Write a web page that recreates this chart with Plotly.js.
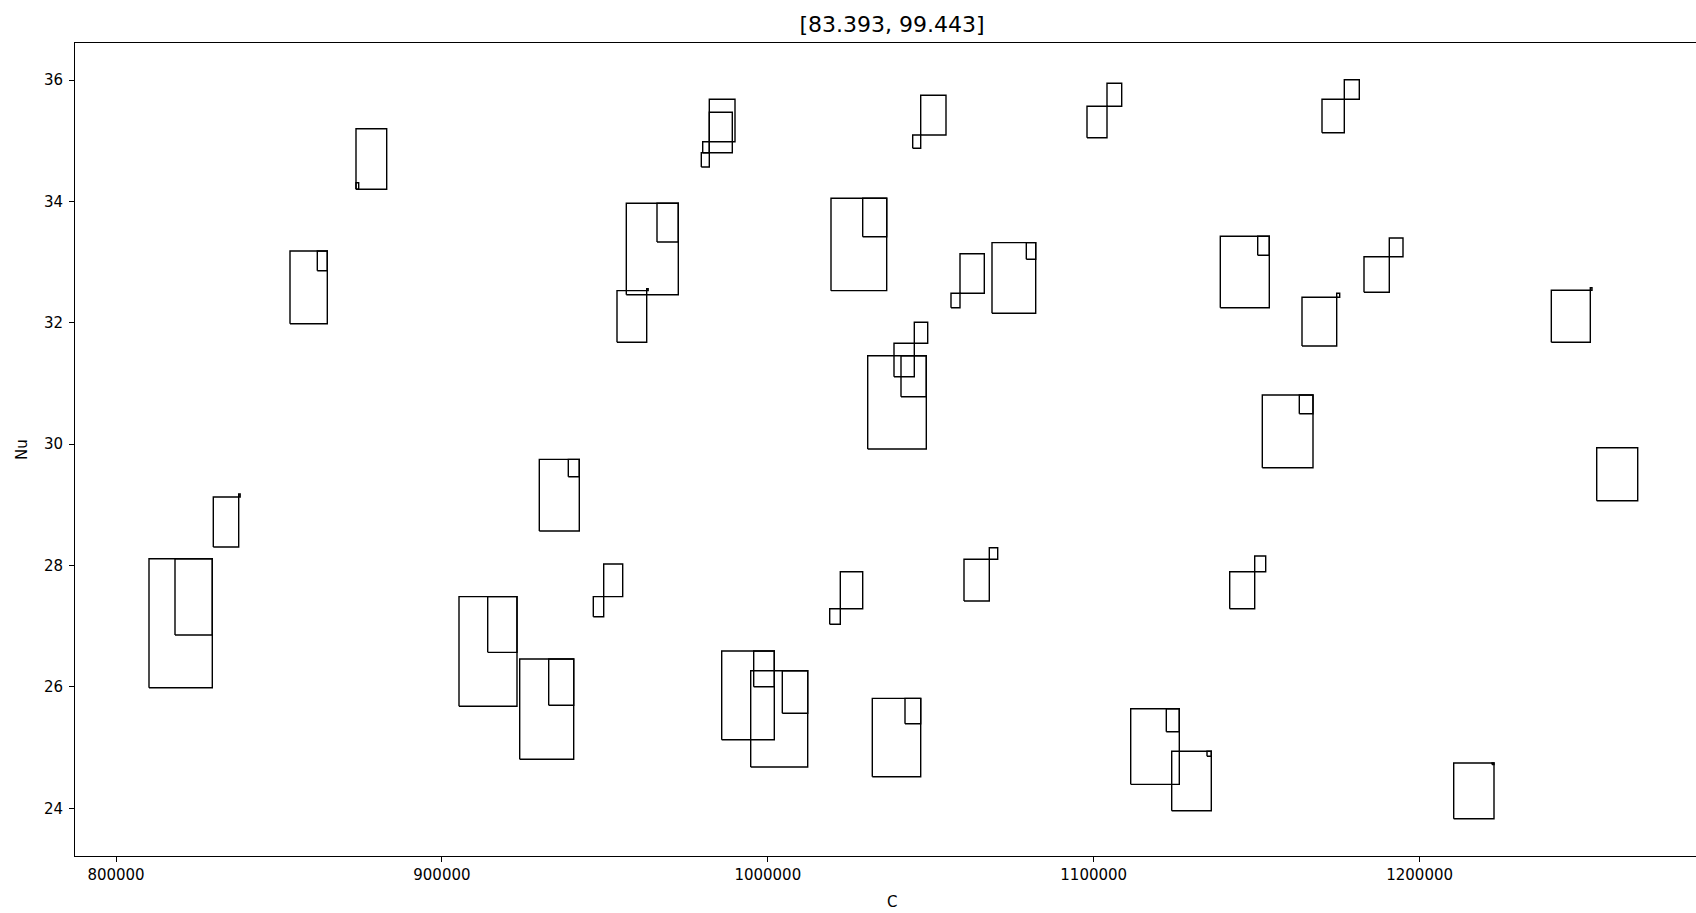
<!DOCTYPE html>
<html>
<head>
<meta charset="utf-8">
<script src="https://cdn.plot.ly/plotly-3.0.1.min.js"></script>
<style>
  html, body { margin: 0; padding: 0; background: #ffffff; }
  #chart { width: 1696px; height: 913px; }
</style>
</head>
<body>
<div id="chart"></div>
<script>
// Rectangle outlines: left, right, bottom, top (data units)
const rectX0 = [810126, 818104, 829855, 837649, 853390, 861767, 873642, 873642, 905246, 914053,
                923872, 932770, 929885, 938783, 949646, 946455, 953727, 962840, 956581, 966000,
                982048, 980023, 982048, 979594, 985853, 995672, 994751, 1004447, 1022244, 1018992,
                1019391, 1029118, 1030652, 1040869, 1038722, 1044950, 1032064, 1042097, 1046915, 1044461,
                1058973, 1056211, 1068792, 1079316, 1060200, 1067963, 1097942, 1104078, 1111350, 1122273,
                1123931, 1134762, 1138843, 1150319, 1141728, 1149399, 1151731, 1163085, 1163912, 1174559,
                1170049, 1176891, 1182936, 1190699, 1210460, 1222200, 1240409, 1252376, 1254340];
const rectX1 = [829549, 829549, 837649, 838100, 864835, 864835, 883062, 874470, 923043, 923043,
                940441, 940441, 942158, 942158, 955476, 949646, 962840, 963300, 972536, 972536,
                989934, 982048, 989105, 982048, 1001993, 1001993, 1012241, 1012241, 1029118, 1022244,
                1036482, 1036482, 1048633, 1048633, 1044950, 1049062, 1046915, 1046915, 1054677, 1046915,
                1066429, 1058973, 1082201, 1082201, 1067963, 1070540, 1104078, 1108589, 1126262, 1126262,
                1136082, 1136082, 1153878, 1153878, 1149399, 1152774, 1167287, 1167287, 1174559, 1175480,
                1176891, 1181494, 1190699, 1194903, 1222826, 1222826, 1252376, 1252896, 1266920];
const rectY0 = [25.987, 26.856, 28.305, 29.129, 31.985, 32.858, 34.199, 34.199, 25.681, 26.570,
                24.807, 25.697, 28.569, 29.464, 27.487, 27.157, 31.678, 32.529, 32.463, 33.331,
                34.984, 34.802, 34.802, 34.567, 25.130, 26.004, 24.680, 25.565, 27.289, 27.032,
                32.529, 33.418, 29.920, 30.782, 31.111, 31.662, 24.521, 25.394, 35.094, 34.875,
                32.486, 32.248, 32.156, 33.046, 27.416, 28.103, 35.050, 35.567, 24.395, 25.262,
                23.960, 24.857, 32.248, 33.112, 27.289, 27.898, 29.612, 30.502, 31.617, 32.420,
                35.132, 35.682, 32.502, 33.089, 23.829, 24.720, 31.678, 32.535, 29.068];
const rectY1 = [28.113, 28.113, 29.129, 29.180, 33.183, 33.183, 35.198, 34.308, 27.487, 27.487,
                26.460, 26.460, 29.750, 29.750, 28.025, 27.487, 32.529, 32.560, 33.969, 33.969,
                35.682, 34.984, 35.468, 34.802, 26.592, 26.592, 26.267, 26.267, 27.898, 27.289,
                34.051, 34.051, 31.457, 31.457, 31.662, 32.008, 25.812, 25.812, 35.748, 35.094,
                33.138, 32.486, 33.320, 33.320, 28.103, 28.294, 35.567, 35.946, 25.641, 25.641,
                24.939, 24.939, 33.425, 33.425, 27.898, 28.157, 30.810, 30.810, 32.420, 32.486,
                35.682, 36.005, 33.089, 33.397, 24.746, 24.746, 32.535, 32.578, 29.942];

const xTickVals = [800000, 900000, 1000000, 1100000, 1200000];
const xTickText = ["800000", "900000", "1000000", "1100000", "1200000"];
const yTickVals = [24, 26, 28, 30, 32, 34, 36];
const yTickText = ["24", "26", "28", "30", "32", "34", "36"];

const chartTitle = "[83.393, 99.443]";
const xLabel = "C";
const yLabel = "Nu";

// Build closed outlines separated by nulls
const px = [], py = [];
for (let i = 0; i < rectX0.length; i++) {
  px.push(rectX0[i], rectX1[i], rectX1[i], rectX0[i], rectX0[i], null);
  py.push(rectY0[i], rectY0[i], rectY1[i], rectY1[i], rectY0[i], null);
}

const fam = "DejaVu Sans, sans-serif";

const trace = {
  type: "scatter",
  mode: "lines",
  x: px,
  y: py,
  line: { color: "#000000", width: 1.4 },
  connectgaps: false,
  hoverinfo: "skip",
  showlegend: false
};

const layout = {
  width: 1696,
  height: 913,
  paper_bgcolor: "#ffffff",
  plot_bgcolor: "#ffffff",
  margin: { l: 75, r: 0, t: 43, b: 57, pad: 0 },
  font: { family: fam, size: 15, color: "#000000" },
  title: {
    text: chartTitle,
    font: { family: fam, size: 22, color: "#000000" },
    x: 892 / 1696, xref: "container", xanchor: "center",
    y: 1 - 24 / 913, yref: "container", yanchor: "middle"
  },
  xaxis: {
    range: [787420, 1284807],
    showgrid: false, zeroline: false,
    showline: true, linecolor: "#000000", linewidth: 1, mirror: true,
    ticks: "outside", ticklen: 5, tickwidth: 1, tickcolor: "#000000",
    tickvals: xTickVals, ticktext: xTickText,
    tickfont: { family: fam, size: 15, color: "#000000" },
    automargin: false
  },
  yaxis: {
    range: [23.214, 36.610],
    showgrid: false, zeroline: false,
    showline: true, linecolor: "#000000", linewidth: 1, mirror: false,
    ticks: "outside", ticklen: 5, tickwidth: 1, tickcolor: "#000000",
    ticklabelstandoff: 3,
    tickvals: yTickVals, ticktext: yTickText,
    tickfont: { family: fam, size: 15, color: "#000000" },
    title: { text: yLabel, font: { family: fam, size: 15, color: "#000000" }, standoff: 12 },
    automargin: false
  },
  annotations: [{
    text: xLabel,
    xref: "paper", yref: "paper",
    x: (892 - 75) / (1696 - 75), y: -(902 - 856) / (856 - 43),
    xanchor: "center", yanchor: "middle",
    showarrow: false,
    font: { family: fam, size: 15, color: "#000000" }
  }]
};

Plotly.newPlot("chart", [trace], layout, { displayModeBar: false, staticPlot: true });
</script>
</body>
</html>
